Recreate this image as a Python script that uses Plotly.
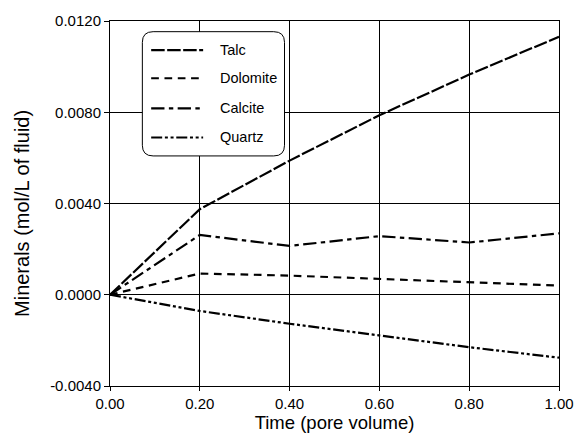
import plotly.graph_objects as go

time_pv = [0.0, 0.2, 0.4, 0.6, 0.8, 1.0]
talc = [0.0, 0.00375, 0.00588, 0.00787, 0.00965, 0.01131]
dolomite = [0.0, 0.00093, 0.00084, 0.00069, 0.00056, 0.00040]
calcite = [0.0, 0.00262, 0.00214, 0.00257, 0.00229, 0.00269]
quartz = [0.0, -0.00071, -0.00127, -0.00180, -0.00230, -0.00276]

series_names = ["Talc", "Dolomite", "Calcite", "Quartz"]
series_values = [talc, dolomite, calcite, quartz]
dashes = ["13.5px,2.5px", "7.7px,5.6px", "13.3px,4.4px,4.4px,4.4px",
          "11px,2.7px,3px,2.7px,3px,2.7px"]

x_tickvals = [0.0, 0.2, 0.4, 0.6, 0.8, 1.0]
x_ticktext = ["0.00", "0.20", "0.40", "0.60", "0.80", "1.00"]
y_tickvals = [-0.004, 0.0, 0.004, 0.008, 0.012]
y_ticktext = ["-0.0040", "0.0000", "0.0040", "0.0080", "0.0120"]

FONT = "Liberation Sans, Arial, sans-serif"
W, H = 586, 440
L, R, T, B = 110, 18, 14, 50
PW, PH = W - L - R, H - T - B


def px(x):
    return (x - L) / PW


def py(y):
    return (H - B - y) / PH


fig = go.Figure()
for name, vals, d in zip(series_names, series_values, dashes):
    fig.add_trace(go.Scatter(x=time_pv, y=vals, mode="lines", name=name,
                             line=dict(color="black", width=2.2, dash=d),
                             showlegend=False))

shapes = []
annotations = []
# rounded legend box
x0, x1, y0, y1, r = 143, 288, 25, 153, 11
path = (f"M {px(x0 + r)},{py(y0)} L {px(x1 - r)},{py(y0)} "
        f"Q {px(x1)},{py(y0)} {px(x1)},{py(y0 + r)} "
        f"L {px(x1)},{py(y1 - r)} Q {px(x1)},{py(y1)} {px(x1 - r)},{py(y1)} "
        f"L {px(x0 + r)},{py(y1)} Q {px(x0)},{py(y1)} {px(x0)},{py(y1 - r)} "
        f"L {px(x0)},{py(y0 + r)} Q {px(x0)},{py(y0)} {px(x0 + r)},{py(y0)} Z")
shapes.append(dict(type="path", xref="paper", yref="paper", path=path,
                   line=dict(color="black", width=1), fillcolor="white", layer="above"))
rows = [44, 73, 104, 134]
for name, d, ry in zip(series_names, dashes, rows):
    shapes.append(dict(type="line", xref="paper", yref="paper",
                       x0=px(152), x1=px(205), y0=py(ry), y1=py(ry),
                       line=dict(color="black", width=2.2, dash=d), layer="above"))
    annotations.append(dict(xref="paper", yref="paper", x=px(220), y=py(ry),
                            text=name, showarrow=False, xanchor="left", yanchor="middle",
                            font=dict(family=FONT, size=14.5, color="black")))

annotations.append(dict(xref="paper", yref="paper", x=px(20), y=py(212),
                        text="Minerals (mol/L of fluid)", textangle=-90, showarrow=False,
                        xanchor="center", yanchor="middle",
                        font=dict(family=FONT, size=20, color="black")))

fig.update_layout(
    width=W, height=H,
    margin=dict(l=L, r=R, t=T, b=B, pad=0),
    paper_bgcolor="white", plot_bgcolor="white",
    font=dict(family=FONT, size=15, color="black"),
    shapes=shapes, annotations=annotations,
)
fig.update_xaxes(range=[0, 1], tickvals=x_tickvals, ticktext=x_ticktext,
                 showgrid=True, gridcolor="black", gridwidth=1,
                 showline=True, linecolor="black", linewidth=1, mirror=True,
                 ticks="outside", ticklen=4, tickcolor="black", zeroline=False,
                 tickfont=dict(family=FONT, size=15),
                 title=dict(text="Time (pore volume)", standoff=3,
                            font=dict(family=FONT, size=18.5)))
fig.update_yaxes(range=[-0.004, 0.012], tickvals=y_tickvals, ticktext=y_ticktext,
                 showgrid=True, gridcolor="black", gridwidth=1,
                 showline=True, linecolor="black", linewidth=1, mirror=True,
                 ticks="outside", ticklen=5, tickcolor="black", zeroline=False,
                 tickfont=dict(family=FONT, size=15))

fig.write_html("out.html")
